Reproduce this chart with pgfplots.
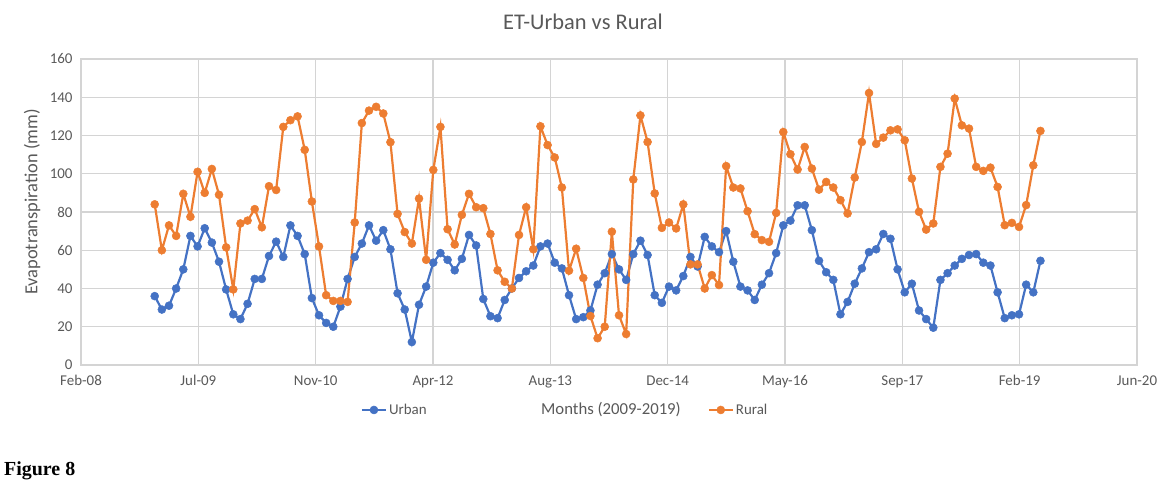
\documentclass[border=0pt]{standalone}
\usepackage{pgfplots}
\usepackage{pgfplotstable}
\pgfplotsset{compat=1.18}
\usepackage{fontspec}
\setmainfont{Carlito}
\newfontfamily\capfont{Liberation Serif}
\definecolor{urb}{HTML}{4472C4}
\definecolor{rur}{HTML}{ED7D31}
\definecolor{gridc}{HTML}{D4D4D4}
\definecolor{txt}{HTML}{595959}
\pgfplotstableread{
x u r
12 36 84
13 29 60
14 31 73
15 40 67.5
16 50 89.5
17 67.5 77.5
18 62 101
19 71.5 90
20 64 102.5
21 54 89
22 39.5 61.5
23 26.5 39.5
24 24 74
25 32 75.5
26 45 81.5
27 45 72
28 57 93.5
29 64.5 91.5
30 56.5 124.5
31 73 128
32 67.5 130
33 58 112.5
34 35 85.5
35 26 62
36 22 36.5
37 20 33.5
38 30.5 33.5
39 45 33
40 56.5 74.5
41 63.5 126.5
42 73 133
43 65 135
44 70.5 131.5
45 60.5 116.5
46 37.5 79
47 29 69.5
48 12 63.5
49 31.5 87
50 41 55
51 53.5 102
52 58.5 124.5
53 55 71
54 49.5 63
55 55.5 78.5
56 68 89.5
57 62.5 82.5
58 34.5 82
59 25.5 68.5
60 24.5 49.5
61 34 43.5
62 40 40
63 45.5 68
64 49 82.5
65 52 60.5
66 62 124.8
67 63.5 115
68 53.5 108.5
69 50.5 92.8
70 36.5 49.3
71 24 60.8
72 25 45.5
73 28.5 25.6
74 42 14
75 48 20
76 58 69.7
77 50 26
78 44.5 16.2
79 58 97
80 65 130.5
81 57.5 116.6
82 36.5 89.7
83 32.5 71.7
84 41 74.5
85 39 71.4
86 46.5 84
87 56.5 52.6
88 51.5 52.6
89 67 40
90 62 47
91 59 41.8
92 70 104
93 54 92.8
94 41 92.3
95 39 80.4
96 34 68.4
97 42 65.3
98 48 64.4
99 58.5 79.5
100 73 121.8
101 75.5 110.2
102 83.5 102.2
103 83.5 114
104 70.5 102.7
105 54.5 91.7
106 48.5 95.7
107 44.5 92.8
108 26.5 86.2
109 33 79.2
110 42.5 98
111 50.5 116.6
112 59 142.2
113 60.5 115.6
114 68.5 118.9
115 66 122.7
116 50 123.2
117 38 117.5
118 42.5 97.5
119 28.5 80.1
120 24 70.8
121 19.5 74
122 44.5 103.6
123 48 110.5
124 52 139.3
125 55.5 125.3
126 57.5 123.6
127 58 103.6
128 53.5 101.5
129 52 103.2
130 38 93.1
131 24.5 73.1
132 26 74.3
133 26.5 72.2
134 42 83.6
135 38 104.4
136 54.5 122.4
}\etdata
\begin{document}
\begin{tikzpicture}[x=1bp,y=1bp]
\useasboundingbox (0,0) rectangle (1159,480);
\begin{axis}[
  at={(81bp,115bp)}, anchor=south west,
  scale only axis, width=1056bp, height=306bp,
  xmin=1.68, xmax=149.52, ymin=0, ymax=160,
  xtick={1.68,18.11,34.53,50.96,67.39,83.81,100.24,116.67,133.09,149.52},
  xticklabels={Feb-08,Jul-09,Nov-10,Apr-12,Aug-13,Dec-14,May-16,Sep-17,Feb-19,Jun-20},
  ytick={0,20,40,60,80,100,120,140,160},
  grid=major, major grid style={draw=gridc, line width=1.4bp},
  axis line style={draw=gridc, line width=1.4bp},
  tick style={draw=none},
  ticklabel style={font=\fontsize{15}{18}\selectfont, text=txt},
  /pgf/number format/assume math mode=true,
  xticklabel style={yshift=-7bp},
  yticklabel style={xshift=-5bp},
  legend columns=2,
  legend style={draw=none, fill=none, at={(axis description cs:0.262,-0.147)}, anchor=west,
    font=\fontsize{15}{18}\selectfont, text=txt,
    /tikz/every even column/.append style={column sep=279bp}},
  legend image code/.code={\draw[mark repeat=2,mark phase=2,#1] plot coordinates {(0bp,0bp) (12bp,0bp) (24bp,0bp)};},
]
\addplot[urb, line width=2.2bp, mark=*, mark size=4bp, mark options={fill=urb, draw=urb, line width=0.5bp}] table[x=x,y=u]{\etdata};
\addlegendentry{Urban}
\addplot[rur, line width=2.2bp, mark=*, mark size=4bp, mark options={fill=rur, draw=rur, line width=0.5bp}] table[x=x,y=r]{\etdata};
\addlegendentry{Rural}
\end{axis}
\node[text=txt, font=\fontsize{22.5}{27}\selectfont] at (583,458) {ET-Urban vs Rural};
\node[text=txt, font=\fontsize{18.5}{22}\selectfont, rotate=90] at (32,278) {Evapotranspiration (mm)};
\node[text=txt, font=\fontsize{16.8}{20}\selectfont] at (611,70) {Months (2009-2019)};
\node[anchor=base west, inner sep=0pt, font=\capfont\bfseries\fontsize{20}{24}\selectfont] at (4,4) {Figure 8};
\end{tikzpicture}
\end{document}
